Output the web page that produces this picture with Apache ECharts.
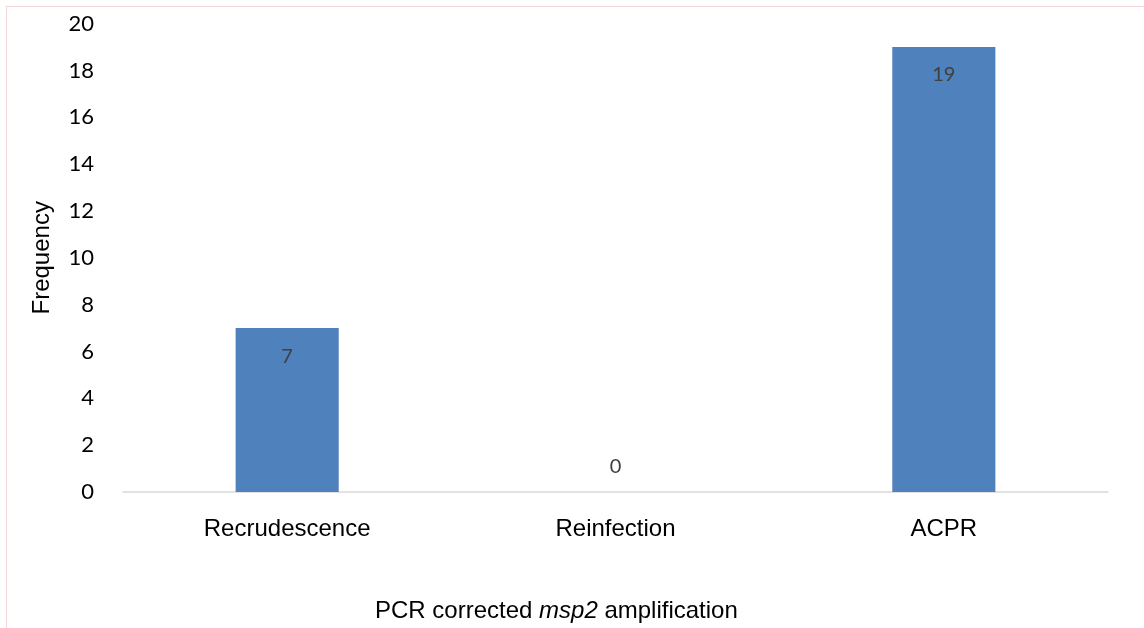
<!DOCTYPE html>
<html>
<head>
<meta charset="utf-8">
<script src="https://cdn.jsdelivr.net/npm/echarts@6/dist/echarts.min.js"></script>
<style>
  html, body { margin: 0; padding: 0; background: #fff; }
  #frame { position: absolute; left: 6px; top: 6px; right: -2px; bottom: -2px;
           border-left: 1px solid #f3d6d8; border-top: 1px solid #f3d6d8; }
  #chart { position: absolute; left: 0; top: 0; width: 1144px; height: 628px; }
</style>
</head>
<body>
<div id="frame"></div>
<div id="chart"></div>
<script>
// Outcome categories and their frequencies
const categories = ['Recrudescence', 'Reinfection', 'ACPR'];
const frequencies = [7, 0, 19];
const yTicks = { min: 0, max: 20, interval: 2 };

const BAR_COLOR = '#4F81BD';
const NUM_FONT = 'Lato, "Open Sans", sans-serif';
const TXT_FONT = '"Liberation Sans", Arial, sans-serif';

const barData = frequencies.map(v => ({
  value: v,
  label: v === 0
    ? { position: 'top', distance: 15 }
    : { position: 'insideTop', distance: 18 }
}));

const chart = echarts.init(document.getElementById('chart'), null, { renderer: 'canvas' });
chart.setOption({
  backgroundColor: 'transparent',
  animation: false,
  grid: { left: 123, right: 36, top: 23.6, bottom: 136, containLabel: false },
  title: {
    text: '{n|PCR corrected }{i|msp2}{n| amplification}',
    left: 370, top: 594,
    textStyle: {
      fontWeight: 'normal',
      rich: {
        n: { fontFamily: TXT_FONT, fontSize: 24, color: '#000', fontWeight: 'normal' },
        i: { fontFamily: TXT_FONT, fontSize: 24, color: '#000', fontWeight: 'normal', fontStyle: 'italic' }
      }
    }
  },
  xAxis: {
    type: 'category',
    data: categories,
    axisLine: { lineStyle: { color: '#d9d9d9', width: 1.5 } },
    axisTick: { show: false },
    axisLabel: { fontFamily: TXT_FONT, fontSize: 24, color: '#000', margin: 25 }
  },
  yAxis: {
    type: 'value',
    min: yTicks.min, max: yTicks.max, interval: yTicks.interval,
    name: 'Frequency',
    nameLocation: 'middle',
    nameGap: 69,
    nameTextStyle: { fontFamily: TXT_FONT, fontSize: 24, color: '#000' },
    axisLine: { show: false },
    axisTick: { show: false },
    splitLine: { show: false },
    axisLabel: { fontFamily: NUM_FONT, fontSize: 22, color: '#000', margin: 29 }
  },
  series: [{
    type: 'bar',
    data: barData,
    barWidth: '31.4%',
    itemStyle: { color: BAR_COLOR },
    label: {
      show: true,
      fontFamily: NUM_FONT,
      fontSize: 20,
      color: '#404040'
    }
  }]
});
</script>
</body>
</html>
